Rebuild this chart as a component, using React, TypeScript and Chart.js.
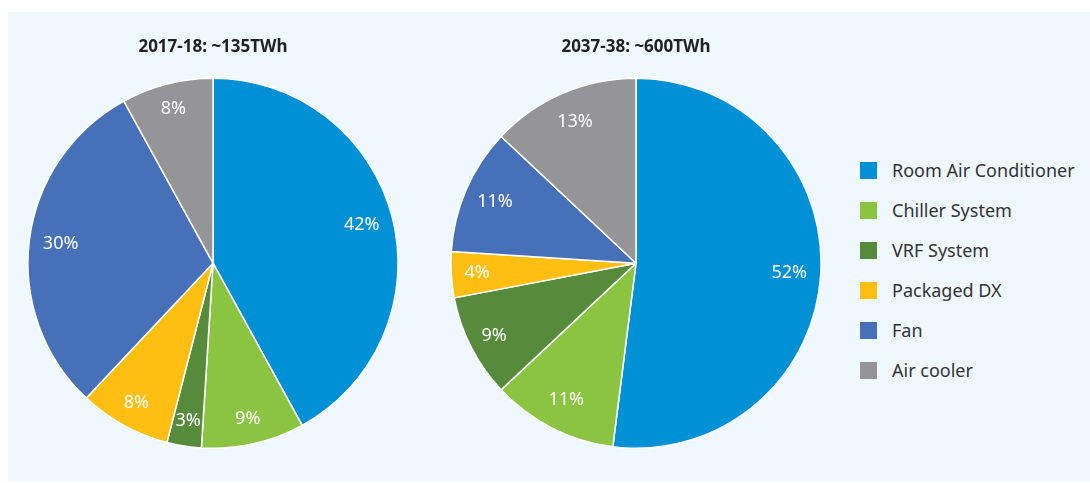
import React, { useEffect, useRef } from "react";
import { Chart, registerables } from "chart.js";

Chart.register(...registerables);

const categories = [
  "Room Air Conditioner",
  "Chiller System",
  "VRF System",
  "Packaged DX",
  "Fan",
  "Air cooler",
];
const colors = ["#0090D6", "#8AC441", "#568B3C", "#FEBF12", "#4671B9", "#959597"];
const title2017 = "2017-18: ~135TWh";
const values2017 = [42, 9, 3, 8, 30, 8];
const title2037 = "2037-38: ~600TWh";
const values2037 = [52, 11, 9, 4, 11, 13];

const FONT = "'Noto Sans', 'Open Sans', sans-serif";

const labelPlugin = {
  id: "pctLabels",
  afterDatasetsDraw(chart: any) {
    const ctx = chart.ctx;
    const meta = chart.getDatasetMeta(0);
    const data = chart.data.datasets[0].data;
    ctx.save();
    ctx.fillStyle = "#ffffff";
    ctx.font = `18px ${FONT}`;
    ctx.textAlign = "center";
    ctx.textBaseline = "middle";
    meta.data.forEach((arc: any, i: number) => {
      const p = arc.getProps(["x", "y", "startAngle", "endAngle", "outerRadius"], true);
      const mid = (p.startAngle + p.endAngle) / 2;
      const span = p.endAngle - p.startAngle;
      const r = p.outerRadius * (span < 0.6 ? 0.86 : 0.83);
      ctx.fillText(`${data[i]}%`, p.x + Math.cos(mid) * r, p.y + Math.sin(mid) * r);
    });
    ctx.restore();
  },
};

function PieChart({ values, title, left }: { values: number[]; title: string; left: number }) {
  const ref = useRef<HTMLCanvasElement | null>(null);
  useEffect(() => {
    if (!ref.current) return;
    const chart = new Chart(ref.current, {
      type: "pie",
      data: {
        labels: categories,
        datasets: [
          {
            data: values,
            backgroundColor: colors,
            borderColor: "#ffffff",
            borderWidth: 1.5,
          },
        ],
      },
      options: {
        responsive: false,
        maintainAspectRatio: false,
        animation: false,
        layout: { padding: { top: 0, bottom: 32, left: 0, right: 0 } },
        plugins: {
          legend: { display: false },
          tooltip: { enabled: false },
          title: {
            display: true,
            text: title,
            color: "#222222",
            font: { family: FONT, size: 17, weight: "bold" },
            padding: { top: 25, bottom: 20 },
          },
        },
      },
      plugins: [labelPlugin],
    });
    return () => chart.destroy();
  }, [values, title]);
  return (
    <canvas
      ref={ref}
      width={410}
      height={469}
      style={{ position: "absolute", left, top: 0, width: 410, height: 469 }}
    />
  );
}

export default function App() {
  return (
    <div
      style={{
        position: "absolute",
        left: 8,
        top: 12,
        width: 1082,
        height: 469,
        background: "#EFF8FE",
        fontFamily: FONT,
      }}
    >
      <PieChart values={values2017} title={title2017} left={0} />
      <PieChart values={values2037} title={title2037} left={423} />
      <div style={{ position: "absolute", left: 852, top: 138 }}>
        {categories.map((c, i) => (
          <div
            key={c}
            style={{ display: "flex", alignItems: "center", height: 40, color: "#333333", fontSize: 18 }}
          >
            <span
              style={{ width: 17, height: 17, background: colors[i], display: "inline-block", marginRight: 15, flexShrink: 0 }}
            />
            <span style={{ whiteSpace: "nowrap" }}>{c}</span>
          </div>
        ))}
      </div>
    </div>
  );
}
